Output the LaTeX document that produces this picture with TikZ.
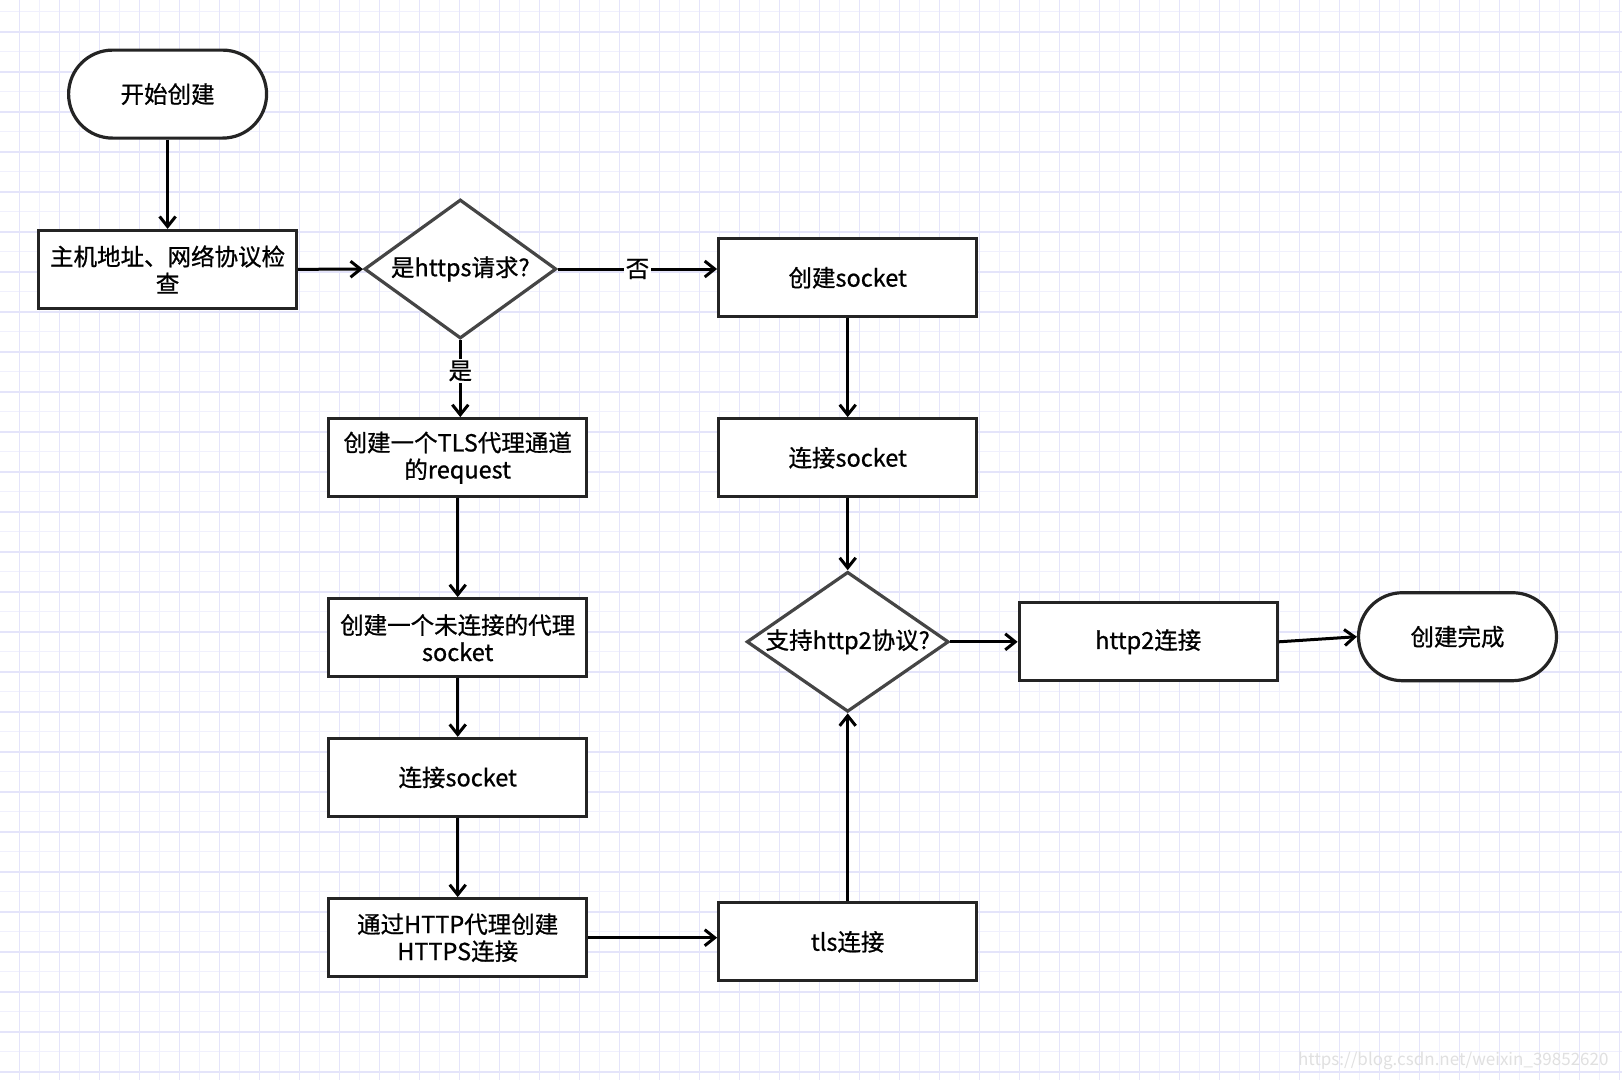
\documentclass[tikz,border=0pt]{standalone}
\usepackage{fontspec}
\setmainfont{Noto Sans CJK SC}
\newfontfamily\flowFont{Noto Sans CJK SC}[FakeBold=0.8]
\usepackage{tikz}
\usetikzlibrary{shapes.geometric, arrows.meta}
\tikzstyle{canvas} = [x = 1pt, y = -1pt]
\definecolor{gridColor}{RGB}{240,240,253}
\definecolor{gridMajorColor}{RGB}{228,228,250}
\definecolor{shapeColor}{RGB}{36,36,36}
\tikzstyle{gridLine} = [color=gridColor, line width=1.4pt]
\tikzstyle{gridMajorLine} = [color=gridMajorColor, line width=1.6pt]
\tikzstyle{nodeText} = [font=\flowFont\fontsize{23.5}{27}\selectfont, align=center, text=black]
\tikzstyle{boxStyle} = [nodeText, draw=shapeColor, fill=white, line width=3.2pt, minimum width=258pt, minimum height=78pt, inner sep=2pt]
\tikzstyle{terminalStyle} = [nodeText, draw=shapeColor, fill=white, line width=3.2pt, minimum width=198pt, minimum height=88pt, rounded corners=44pt]
\tikzstyle{decisionStyle} = [diamond, draw=shapeColor!85, fill=white, line width=3.2pt, inner sep=0pt]
\tikzstyle{flowLine} = [color=black, line width=3pt, -{Straight Barb[length=10pt, width=16pt, line width=3pt]}]
\tikzstyle{flowLabel} = [nodeText, fill=white, inner sep=2pt]
\newcommand{\processBox}[4]{\node [boxStyle] (#1) at (#2, #3) {#4};}
\newcommand{\terminalBox}[4]{\node [terminalStyle] (#1) at (#2, #3) {#4};}
\newcommand{\decisionBox}[6]{\node [decisionStyle, minimum width=#4, minimum height=#5, label={[nodeText]center:#6}] (#1) at (#2, #3) {};}
\begin{document}
\begin{tikzpicture}[canvas]
        \useasboundingbox (0,0) rectangle (1622,1080);
        \fill[white] (0,0) rectangle (1622,1080);

        % background grid
        \foreach \gx in {39.3,79.3,...,1620} {
          \draw [gridLine] (\gx, 0) -- + (0, 1080);
        }
        \foreach \gy in {11.7,51.7,...,1080} {
          \draw [gridLine] (0, \gy) -- + (1622, 0);
        }
        \foreach \gx in {19.3,59.3,...,1620} {
          \draw [gridMajorLine] (\gx, 0) -- + (0, 1080);
        }
        \foreach \gy in {31.7,71.7,...,1080} {
          \draw [gridMajorLine] (0, \gy) -- + (1622, 0);
        }

        \terminalBox{start}{167.6}{94.1}{开始创建}
        \processBox{check}{167.6}{269.5}{主机地址、网络协议检\\查}
        \decisionBox{isHttps}{460.3}{269}{192pt}{139pt}{是https请求?}
        \processBox{newSocket}{847.7}{277.7}{创建socket}
        \processBox{tlsRequest}{457.7}{457.7}{创建一个TLS代理通道\\的request}
        \processBox{connectRight}{847.7}{457.7}{连接socket}
        \decisionBox{isHttpTwo}{847.7}{641.8}{202pt}{140pt}{支持http2协议?}
        \processBox{httpTwo}{1148.2}{641.8}{http2连接}
        \terminalBox{done}{1457.5}{636.7}{创建完成}
        \processBox{proxySocket}{457.7}{637.7}{创建一个未连接的代理\\socket}
        \processBox{connectLeft}{457.7}{777.4}{连接socket}
        \processBox{tunnel}{457.7}{937.7}{通过HTTP代理创建\\HTTPS连接}
        \processBox{tls}{847.7}{941.8}{tls连接}

        \draw [flowLine] (start) -- (check);
        \draw [flowLine] (check) -- (isHttps);
        \draw [flowLine] (isHttps.east) -- node [flowLabel] {否} (isHttps.east -| newSocket.west);
        \draw [flowLine] (isHttps.south) -- node [flowLabel, pos=.4] {是} (isHttps.south |- tlsRequest.north);
        \draw [flowLine] (tlsRequest) -- (proxySocket);
        \draw [flowLine] (proxySocket) -- (connectLeft);
        \draw [flowLine] (connectLeft) -- (tunnel);
        \draw [flowLine] (tunnel.east) -- (tunnel.east -| tls.west);
        \draw [flowLine] (tls) -- (isHttpTwo);
        \draw [flowLine] (newSocket) -- (connectRight);
        \draw [flowLine] (connectRight) -- (isHttpTwo);
        \draw [flowLine] (isHttpTwo) -- (httpTwo);
        \draw [flowLine] (httpTwo.east) -- (done.west);

        \node [anchor=east, text=black!12, font=\fontsize{17}{20}\selectfont] (mark) at (1612, 1061) {https://blog.csdn.net/weixin\_39852620};
      \end{tikzpicture}
\end{document}
